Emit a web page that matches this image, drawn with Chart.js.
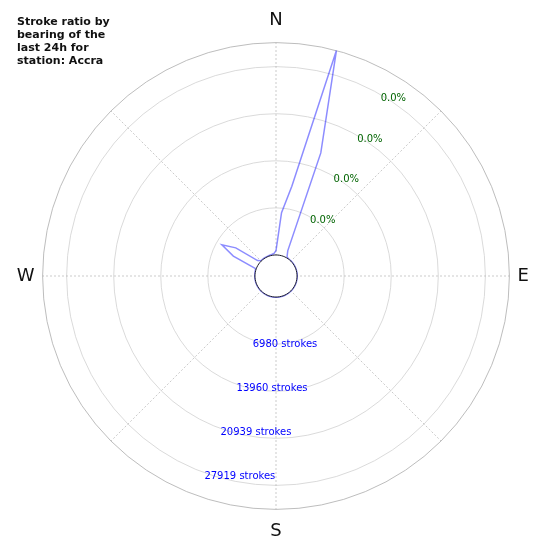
<!DOCTYPE html>
<html>
<head>
<meta charset="utf-8">
<script src="https://cdn.jsdelivr.net/npm/chart.js@4/dist/chart.umd.min.js"></script>
<style>
    html, body { margin: 0; padding: 0; background: #ffffff; }
    #wrap { position: relative; width: 550px; height: 550px; }
    #titulo {
        position: absolute; left: 17px; top: 15px;
        font: bold 11px "DejaVu Sans", sans-serif; line-height: 13px; color: #111;
    }
</style>
</head>
<body>
<div id="wrap">
    <canvas id="strokeChart"></canvas>
    <div id="titulo">Stroke ratio by<br>bearing of the<br>last 24h for<br>station: Accra</div>
</div>
<script>
// bearings of each bin (degrees, clockwise from north)
const bearings = [0, 5, 10, 15, 20, 25, 30, 35, 40, 45, 50, 55,
    60, 65, 70, 75, 80, 85, 90, 95, 100, 105, 110, 115,
    120, 125, 130, 135, 140, 145, 150, 155, 160, 165, 170, 175,
    180, 185, 190, 195, 200, 205, 210, 215, 220, 225, 230, 235,
    240, 245, 250, 255, 260, 265, 270, 275, 280, 285, 290, 295,
    300, 305, 310, 315, 320, 325, 330, 335, 340, 345, 350, 355];

// strokes per bin
const strokes = [650, 6300, 10400, 31480, 16300, 1000, 150, 60, 40, 30, 30, 30,
    30, 30, 30, 30, 30, 30, 30, 30, 30, 30, 30, 30,
    30, 30, 30, 30, 30, 30, 30, 30, 30, 30, 30, 30,
    30, 30, 30, 30, 30, 30, 30, 30, 30, 30, 30, 30,
    30, 30, 30, 30, 30, 30, 30, 30, 40, 60, 100, 3860,
    6150, 4160, 450, 80, 60, 60, 60, 60, 80, 100, 150, 250];

const compassBearings = [0, 90, 180, 270];
const compassLabels = ['N', 'E', 'S', 'W'];

const ringValues = [6980, 13960, 20939, 27919];
const ringStrokeLabels = ['6980 strokes', '13960 strokes', '20939 strokes', '27919 strokes'];
const ringRatioLabels = ['0.0%', '0.0%', '0.0%', '0.0%'];

const rMax = 31480;
const furo = 21 / 233;                 // fraçao do raio ocupada pelo buraco central
const rMin = -rMax * furo / (1 - furo);

// desenha os textos dos aneis (strokes em azul, % em verde)
const rotulosAneis = {
    id: 'rotulosAneis',
    afterDraw(chart) {
        const s = chart.scales.r;
        const ctx = chart.ctx;
        const rad = Math.PI / 180;
        ctx.save();
        ctx.font = '10px "DejaVu Sans"';
        ctx.textAlign = 'left';
        ctx.textBaseline = 'middle';
        ringValues.forEach((v, i) => {
            const d = s.getDistanceFromCenterForValue(v);
            ctx.fillStyle = '#0000ff';
            ctx.fillText(ringStrokeLabels[i], s.xCenter + d * Math.sin(200 * rad), s.yCenter - d * Math.cos(200 * rad) + 4);
            ctx.fillStyle = '#006400';
            ctx.fillText(ringRatioLabels[i], s.xCenter + d * Math.sin(30 * rad), s.yCenter - d * Math.cos(30 * rad) + 3.5);
        });
        ctx.restore();
    }
};

function criarGrafico() {
    const ctx = document.getElementById('strokeChart').getContext('2d');
    new Chart(ctx, {
        type: 'radar',
        data: {
            labels: bearings,
            datasets: [{
                label: 'Strokes',
                data: strokes,
                borderColor: 'rgba(0, 0, 255, 0.45)',
                borderWidth: 1.5,
                pointRadius: 0,
                fill: false,
                tension: 0,
                order: 1
            }, {
                // buraco central branco, desenhado por cima da linha
                label: 'furo',
                data: bearings.map(() => 0),
                borderColor: '#1a1a2a',
                borderWidth: 1,
                backgroundColor: '#ffffff',
                pointRadius: 0,
                fill: 'start',
                order: 0
            }]
        },
        options: {
            responsive: true,
            maintainAspectRatio: false,
            animation: false,
            layout: { padding: { left: 7, right: 11, top: 11, bottom: 7 } },
            plugins: {
                legend: { display: false },
                tooltip: { enabled: false }
            },
            scales: {
                r: {
                    min: rMin,
                    max: rMax,
                    startAngle: 0,
                    afterBuildTicks: (scale) => {
                        scale.ticks = [rMin, 0, ...ringValues, rMax].map(v => ({ value: v }));
                    },
                    ticks: { display: false },
                    grid: {
                        circular: true,
                        color: (c) => {
                            const v = c.tick ? c.tick.value : null;
                            if (v === rMax) return '#b5b5b5';
                            if (v === rMin || v === 0) return 'rgba(0,0,0,0)';
                            return '#d6d6d6';
                        },
                        lineWidth: 0.9
                    },
                    angleLines: {
                        color: '#bdbdbd',
                        lineWidth: (c) => (bearings[c.index] % 45 === 0) ? 0.8 : 0,
                        borderDash: [2, 2]
                    },
                    pointLabels: {
                        display: true,
                        callback: (label) => {
                            const k = compassBearings.indexOf(label);
                            return k >= 0 ? compassLabels[k] : '';
                        },
                        padding: (c) => (bearings[c.index] === 90 || bearings[c.index] === 270) ? 8 : 11,
                        color: '#111111',
                        font: { family: 'DejaVu Sans', size: 18 }
                    }
                }
            }
        },
        plugins: [rotulosAneis]
    });
}

document.addEventListener('DOMContentLoaded', criarGrafico);
</script>
</body>
</html>
